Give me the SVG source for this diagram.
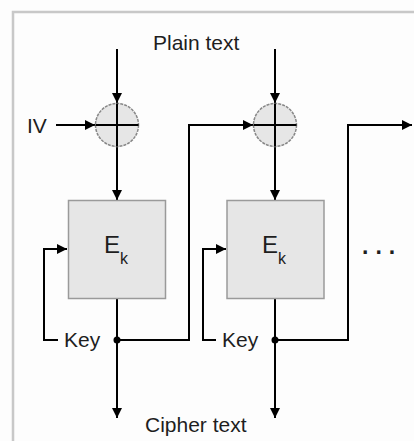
<svg xmlns="http://www.w3.org/2000/svg" width="414" height="441" viewBox="0 0 414 441">
<style>
.t{font-family:"Liberation Sans",Arial,sans-serif;fill:#1e1e1e;}
.w{stroke:#000;stroke-width:2;fill:none;}
.box{fill:#e6e6e6;stroke:#9a9a9a;stroke-width:1.5;}
.xor{fill:#e6e6e6;stroke:#888;stroke-width:1.5;stroke-dasharray:3 1;}
</style>
<defs>
<marker id="a" viewBox="0 0 10 10" refX="10" refY="5" markerWidth="10" markerHeight="10" markerUnits="userSpaceOnUse" orient="auto">
<path d="M0,0 L10,5 L0,10 Z" fill="#000"/>
</marker>
</defs>
<rect x="0" y="0" width="414" height="441" fill="#fdfdfd"/>
<path d="M13,441 V12 H414" fill="none" stroke="#c8c8c8" stroke-width="2.5"/>
<text class="t" x="153" y="50" font-size="21">Plain text</text>
<text class="t" x="145" y="432" font-size="21">Cipher text</text>
<text class="t" x="27" y="133" font-size="21">IV</text>
<text class="t" x="362" y="254" font-size="23" font-weight="bold" letter-spacing="7">...</text>
<g id="connectors">
<line class="w" x1="117" y1="49" x2="117" y2="103" marker-end="url(#a)"/>
<line class="w" x1="275" y1="49" x2="275" y2="103" marker-end="url(#a)"/>
<line class="w" x1="56" y1="125" x2="95" y2="125" marker-end="url(#a)"/>
<line class="w" x1="117" y1="147" x2="117" y2="200" marker-end="url(#a)"/>
<line class="w" x1="275" y1="147" x2="275" y2="200" marker-end="url(#a)"/>
<line class="w" x1="117" y1="298" x2="117" y2="418" marker-end="url(#a)"/>
<line class="w" x1="275" y1="298" x2="275" y2="418" marker-end="url(#a)"/>
<path class="w" d="M117,340 H189 V125 H253" marker-end="url(#a)"/>
<path class="w" d="M275,340 H348 V125 H412" marker-end="url(#a)"/>
<path class="w" d="M58,340 H44 V249 H67" marker-end="url(#a)"/>
<path class="w" d="M216,340 H203 V249 H226" marker-end="url(#a)"/>
<circle cx="117" cy="340" r="3.5" fill="#000"/>
<circle cx="275" cy="340" r="3.5" fill="#000"/>
</g>
<g id="xor1">
<circle class="xor" cx="117" cy="125" r="21.5"/>
<path class="w" d="M95.5,125 H138.5 M117,103.5 V146.5"/>
</g>
<g id="xor2">
<circle class="xor" cx="275" cy="125" r="21.5"/>
<path class="w" d="M253.5,125 H296.5 M275,103.5 V146.5"/>
</g>
<g id="ek1">
<rect class="box" x="68.5" y="200.5" width="97" height="98"/>
<text class="t" x="104" y="253" font-size="24">E<tspan font-size="16" dy="11">k</tspan></text>
</g>
<g id="ek2">
<rect class="box" x="227" y="200.5" width="97" height="98"/>
<text class="t" x="262" y="253" font-size="24">E<tspan font-size="16" dy="11">k</tspan></text>
</g>
<text class="t" x="64" y="347" font-size="21">Key</text>
<text class="t" x="222" y="347" font-size="21">Key</text>
</svg>
